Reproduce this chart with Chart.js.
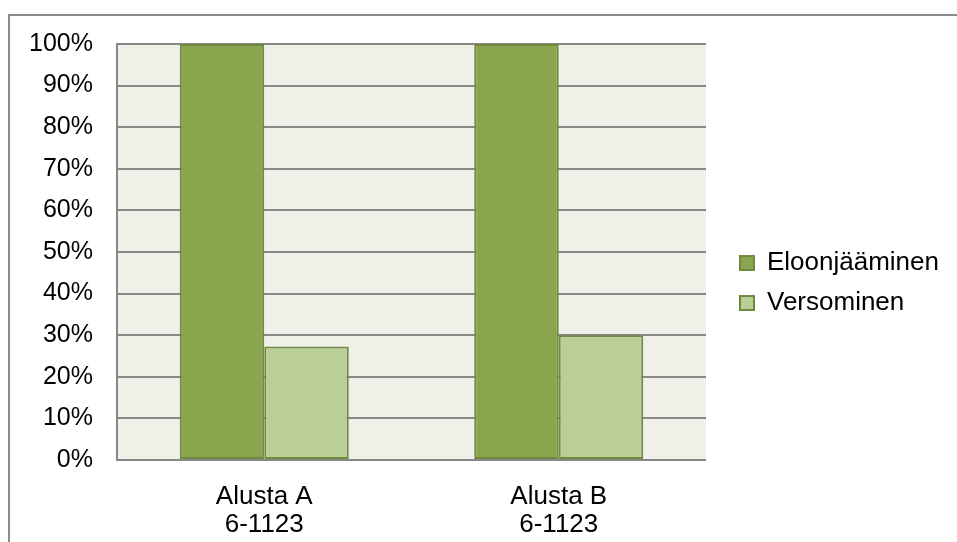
<!DOCTYPE html>
<html>
<head>
<meta charset="utf-8">
<script src="https://cdn.jsdelivr.net/npm/chart.js@4.4.0/dist/chart.umd.min.js"></script>
<style>
  html, body { margin: 0; padding: 0; background: #fff; }
  #wrap { position: relative; width: 957px; height: 542px; }
</style>
</head>
<body>
<div id="wrap"><canvas id="selviytyminen"></canvas></div>
<script>
const categories = [['Alusta A', '6-1123'], ['Alusta B', '6-1123']];
const seriesNames = ['Eloonjääminen', 'Versominen'];
const eloonjaaminen = [100, 100];
const versominen = [27.3, 30];
const yTicks = [0, 10, 20, 30, 40, 50, 60, 70, 80, 90, 100];

(function(){
  const ctx = document.getElementById('selviytyminen');

  // white page, plot background and the outer frame line
  const backdrop = {
    id: 'backdrop',
    beforeDraw(chart) {
      const c = chart.ctx;
      const a = chart.chartArea;
      c.save();
      c.fillStyle = '#ffffff';
      c.fillRect(0, 0, chart.width, chart.height);
      c.fillStyle = '#eff1e9';
      c.fillRect(a.left, a.top, a.right - a.left, a.bottom - a.top);
      c.strokeStyle = '#8c8c8c';
      c.lineWidth = 2;
      c.beginPath();
      c.moveTo(9, chart.height + 5);
      c.lineTo(9, 15);
      c.lineTo(chart.width, 15);
      c.stroke();
      c.restore();
    }
  };

  // push the legend a bit away from the plot
  const legendNudge = {
    id: 'legendNudge',
    afterLayout(chart) {
      const lg = chart.legend;
      if (!lg) return;
      lg.left += 20; lg.right += 20;
      lg.top -= 10; lg.bottom -= 10;
    }
  };

  const family = '"Liberation Sans", Arial, sans-serif';

  new Chart(ctx, {
    type: 'bar',
    data: {
      labels: categories,
      datasets: [{
        label: seriesNames[0],
        data: eloonjaaminen,
        backgroundColor: '#89a54e',
        borderColor: '#71893f',
        borderWidth: 2,
        borderSkipped: false
      }, {
        label: seriesNames[1],
        data: versominen,
        backgroundColor: '#b9cf96',
        borderColor: '#71893f',
        borderWidth: 2,
        borderSkipped: false
      }]
    },
    options: {
      responsive: true,
      maintainAspectRatio: false,
      animation: false,
      layout: {
        padding: { left: 0, top: 44, right: 28, bottom: 0 }
      },
      datasets: {
        bar: { categoryPercentage: 0.574, barPercentage: 1 }
      },
      scales: {
        x: {
          afterFit(scale) { scale.height = 82; },
          grid: { display: false, drawTicks: false },
          border: { display: true, color: '#888888', width: 2 },
          ticks: {
            color: '#000',
            font: { family: family, size: 26, lineHeight: 1.08 },
            padding: 23,
            maxRotation: 0
          }
        },
        y: {
          min: 0,
          max: 100,
          afterFit(scale) { scale.width = 117; },
          afterBuildTicks(scale) {
            scale.ticks = yTicks.map(v => ({ value: v }));
          },
          grid: { color: '#888888', lineWidth: 2, drawTicks: false },
          border: { display: true, color: '#888888', width: 2 },
          ticks: {
            color: '#000',
            font: { family: family, size: 25 },
            padding: 24,
            callback: v => v + '%'
          }
        }
      },
      plugins: {
        legend: {
          position: 'right',
          labels: {
            color: '#000',
            font: { family: family, size: 26 },
            boxWidth: 14,
            boxHeight: 14,
            padding: 14
          }
        },
        tooltip: { enabled: false }
      }
    },
    plugins: [backdrop, legendNudge]
  });
})();
</script>
</body>
</html>
